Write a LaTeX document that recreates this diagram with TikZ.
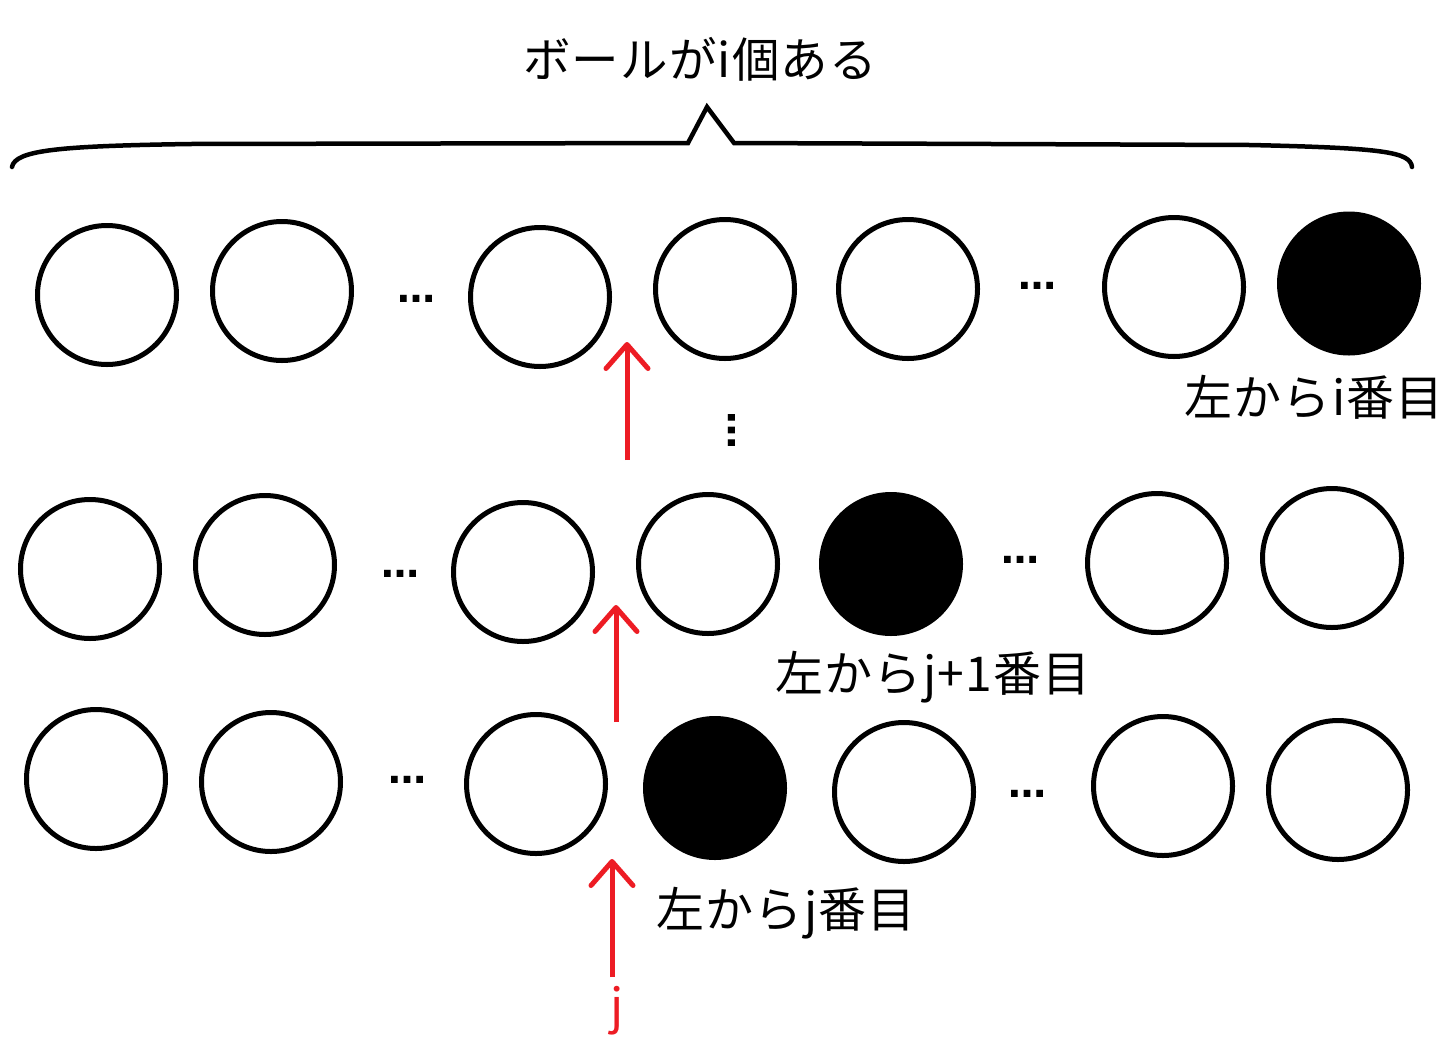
\documentclass[tikz,border=0pt]{standalone}
\usepackage{fontspec}
\newfontfamily\jp[LetterSpace=2.5]{Noto Sans CJK JP}
\newfontfamily\dotfont{DejaVu Sans Bold}
\usetikzlibrary{arrows.meta}
\definecolor{pred}{RGB}{237,28,36}
\begin{document}
\begin{tikzpicture}[x=1pt,y=-1pt,
  ball/.style={circle, draw=black, line width=5pt, minimum size=139pt, inner sep=0pt},
  blackball/.style={ball, fill=black},
  lbl/.style={font=\jp\fontsize{48}{56}\selectfont, inner sep=0pt, text=black},
  ttl/.style={font=\jp\fontsize{47.5}{56}\selectfont, inner sep=0pt, text=black},
  dotsnode/.style={font=\dotfont\fontsize{38}{46}\selectfont, inner sep=0pt},
  redarrow/.style={draw=pred, line width=5pt, -{Straight Barb[length=24pt,width=42pt,round]}},
  bracepath/.style={draw=black, line width=4.5pt, line cap=round, line join=miter}
]
\useasboundingbox (0,0) rectangle (1450,1063);
\fill[white] (0,0) rectangle (1450,1063);

% title and brace
\node[ttl] (title) at (700,59) {ボールがi個ある};
\coordinate (bl) at (12,167);
\coordinate (br) at (1412,167);
\coordinate (bpk) at (707,107);
\draw[bracepath] (bl) .. controls (15,150) and (60,146) .. (190,144) -- (688,143) -- (bpk) -- (734,143) -- (1250,145) .. controls (1385,148) and (1410,152) .. (br);

% row 1
\node[ball] (a1) at (107,295) {};
\node[ball] (a2) at (282,291) {};
\node[dotsnode] (ad1) at (416,299) {…};
\node[ball] (a3) at (540,297) {};
\node[ball] (a4) at (725,289) {};
\node[ball] (a5) at (908,289) {};
\node[dotsnode] (ad2) at (1037,286) {…};
\node[ball] (a6) at (1174,287) {};
\node[blackball] (a7) at (1349,283.5) {};
\node[lbl] (la) at (1314,397) {左からi番目};

\node[dotsnode, rotate=90] (vd) at (732,430) {…};

% row 2
\node[ball] (b1) at (90,569) {};
\node[ball] (b2) at (265,565) {};
\node[dotsnode] (bd1) at (400,574) {…};
\node[ball] (b3) at (523,572) {};
\node[ball] (b4) at (708,564) {};
\node[blackball] (b5) at (891,564) {};
\node[dotsnode] (bd2) at (1020,560) {…};
\node[ball] (b6) at (1157,563) {};
\node[ball] (b7) at (1332,558) {};
\node[lbl] (lb) at (933,677) {左からj+1番目};

% row 3
\node[ball] (c1) at (96,779) {};
\node[ball] (c2) at (271,782) {};
\node[dotsnode] (cd1) at (407,780) {…};
\node[ball] (c3) at (536,784) {};
\node[blackball] (c4) at (715,788) {};
\node[ball] (c5) at (904,792) {};
\node[dotsnode] (cd2) at (1027,794) {…};
\node[ball] (c6) at (1163,786) {};
\node[ball] (c7) at (1338,790) {};
\node[lbl] (lc) at (786,913) {左からj番目};

% arrows
\coordinate (r1s) at (627,460);
\coordinate (r1e) at (627,342);
\coordinate (r2s) at (616,722);
\coordinate (r2e) at (616,605);
\coordinate (r3s) at (612,977);
\coordinate (r3e) at (612,859);
\draw[redarrow] (r1s) -- (r1e);
\draw[redarrow] (r2s) -- (r2e);
\draw[redarrow] (r3s) -- (r3e);
\node[lbl, text=pred] (jl) at (617,1011) {j};
\end{tikzpicture}
\end{document}
